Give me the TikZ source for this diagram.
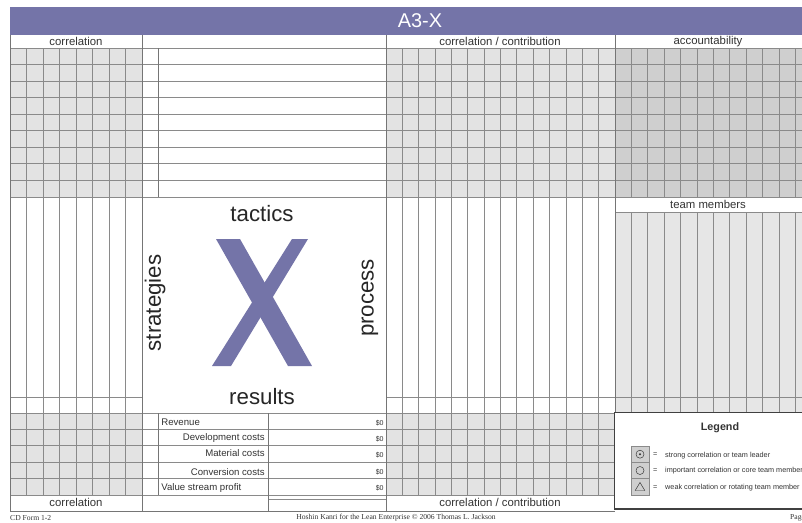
\documentclass[tikz,border=0pt]{standalone}
\usepackage{fontspec}
\setmainfont{Liberation Sans}
\newfontfamily\footfont{Liberation Serif}
\usetikzlibrary{positioning}

\definecolor{xpurple}{HTML}{7474A8}
\definecolor{cellgray}{HTML}{E3E3E3}
\definecolor{darkcell}{HTML}{CFCFCF}
\definecolor{teamgray}{HTML}{E6E6E6}
\definecolor{linegray}{HTML}{8A8A8A}
\definecolor{inkgray}{HTML}{333333}

\begin{document}
\begin{tikzpicture}[x=0.03cm, y=-0.03cm]
  \tikzstyle{gline}=[draw=linegray, line width=0.65pt]
  \tikzstyle{mline}=[draw=linegray!85!black, line width=0.7pt]
  \tikzstyle{hdr}=[text=inkgray, font=\fontsize{9.7}{10}\selectfont, inner sep=0pt]
  \tikzstyle{word}=[text=black!85, font=\fontsize{19}{20}\selectfont, inner sep=0pt]
  \tikzstyle{row}=[text=inkgray, font=\fontsize{8.2}{9}\selectfont, inner sep=1pt]
  \tikzstyle{cash}=[text=inkgray, font=\fontsize{6}{7}\selectfont, inner sep=1pt, anchor=east]
  \tikzstyle{legtxt}=[text=inkgray, font=\fontsize{6.2}{7}\selectfont, anchor=west, inner sep=0pt]
  \tikzstyle{foot}=[text=inkgray, font=\footfont\fontsize{6.5}{7}\selectfont, inner sep=0pt]
  \useasboundingbox (0,0) rectangle (802,522);
  \clip (0,0) rectangle (802,522);
  \fill[white] (0,0) rectangle (802,522);

  % title bar
  \fill[xpurple] (10,7) rectangle (812,35);
  \node[text=white, font=\fontsize{17}{18}\selectfont] (title) at (420,21) {A3-X};

  % shaded blocks
  \fill[cellgray] (10,48) rectangle (142,197);
  \fill[cellgray] (10,413) rectangle (142,495);
  \fill[cellgray] (386,48) rectangle (615,197);
  \fill[cellgray] (386,413) rectangle (615,495);
  \fill[darkcell] (615,48) rectangle (812,197);
  \fill[teamgray] (615,212) rectangle (812,412);

  % columns
  \foreach \i in {1,...,7} \draw[gline] (10+16.5*\i,48) -- (10+16.5*\i,495);
  \foreach \i in {1,...,13} \draw[gline] (386+16.357*\i,48) -- (386+16.357*\i,495);
  \foreach \i in {1,...,12} {
    \draw[gline] (615+16.4*\i,48) -- (615+16.4*\i,197);
    \draw[gline] (615+16.4*\i,212) -- (615+16.4*\i,412);
  }

  % rows
  \foreach \j in {0,...,9} \draw[gline] (10,48+16.55*\j) -- (812,48+16.55*\j);
  \foreach \j in {0,...,5} \draw[gline] (10,413+16.4*\j) -- (615,413+16.4*\j);
  \draw[gline] (10,397) -- (142,397);
  \draw[gline] (386,397) -- (812,397);
  \draw[gline] (615,212) -- (812,212);
  \draw[gline] (268,499) -- (386,499);

  % main dividers
  \draw[mline] (10,35) -- (10,511) -- (615,511);
  \draw[mline] (142,35) -- (142,511);
  \draw[mline] (386,35) -- (386,511);
  \draw[mline] (615,35) -- (615,412);
  \draw[mline] (158,48) -- (158,197);
  \draw[mline] (158,413) -- (158,495);
  \draw[mline] (268,413) -- (268,511);

  % headers
  \node[hdr] (corrtop) at (76,41.5) {correlation};
  \node[hdr] (contribtop) at (500,41.5) {correlation / contribution};
  \node[hdr] (acct) at (708,41.5) {accountability};
  \node[hdr] (team) at (708,204.5) {team members};
  \node[hdr] (corrbot) at (76,502.5) {correlation};
  \node[hdr] (contribbot) at (500,502.5) {correlation / contribution};

  % the X
  \fill[xpurple] (216,239) -- (240,239) -- (312,366) -- (288,366) -- cycle;
  \fill[xpurple] (292,239) -- (308,239) -- (231,366) -- (212,366) -- cycle;
  \node[word] (tactics) at (262,214) {tactics};
  \node[word] (results) at (262,397) {results};
  \node[word, rotate=90] (strategies) at (155,303) {strategies};
  \node[word, rotate=90] (process) at (370,298) {process};

  % results table
  \node[row, anchor=west] (rev) at (160,422) {Revenue};
  \node[row, anchor=east] (dev) at (266,438.5) {Development costs};
  \node[row, anchor=east] (mat) at (266,453.5) {Material costs};
  \node[row, anchor=east] (conv) at (266,472) {Conversion costs};
  \node[row, anchor=west] (vsp) at (160,488) {Value stream profit};
  \node[cash] (revval) at (385,423) {\$0};
  \node[cash] (devval) at (385,439.5) {\$0};
  \node[cash] (matval) at (385,455) {\$0};
  \node[cash] (convval) at (385,472) {\$0};
  \node[cash] (vspval) at (385,488) {\$0};

  % legend
  \draw[line width=1.1pt, draw=black!75, fill=white] (614.5,412.5) rectangle (812,509);
  \node[text=inkgray, font=\bfseries\fontsize{9.2}{10}\selectfont] (legend) at (720,428) {Legend};
  \draw[gline, fill=darkcell] (631,446) rectangle (649,495);
  \draw[gline] (631,462.3) -- (649,462.3) (631,478.7) -- (649,478.7);
  \draw[inkgray, line width=0.4pt] (640,454.2) circle (4);
  \fill[inkgray] (640,454.2) circle (1.2);
  \draw[inkgray, line width=0.4pt] (640,470.5) circle (4);
  \draw[inkgray, line width=0.4pt] (640,482.5) -- (644.8,490.5) -- (635.2,490.5) -- cycle;
  \node[legtxt] (eqa) at (653,455) {=};
  \node[legtxt] (eqb) at (653,471) {=};
  \node[legtxt] (eqc) at (653,487.5) {=};
  \node[legtxt] (strong) at (665,455.5) {strong correlation or team leader};
  \node[legtxt] (core) at (665,471) {important correlation or core team member};
  \node[legtxt] (weak) at (665,488) {weak correlation or rotating team member};

  % footer
  \node[foot, anchor=west] (form) at (10,518) {CD Form 1-2};
  \node[foot] (credit) at (396,518) {Hoshin Kanri for the Lean Enterprise © 2006 Thomas L. Jackson};
  \node[foot, anchor=west] (page) at (790,518) {Page};
\end{tikzpicture}
\end{document}
